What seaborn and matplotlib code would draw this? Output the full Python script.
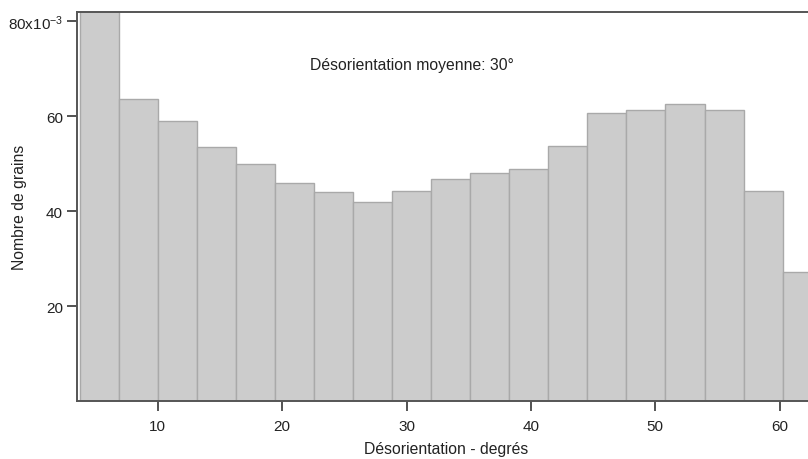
import matplotlib
matplotlib.use("Agg")
import matplotlib.pyplot as plt
import seaborn as sns
import numpy as np
import pandas as pd
from matplotlib.ticker import FixedLocator, FuncFormatter

# histogram values (fraction of grains)
heights = [0.0825, 0.0636, 0.0589, 0.0535, 0.0500, 0.0460, 0.0440, 0.0419, 0.0443,
           0.0467, 0.0481, 0.0489, 0.0537, 0.0606, 0.0613, 0.0626, 0.0613, 0.0443, 0.0271]
bin_start = 3.72
bin_width = 3.14
x_ticks = [10, 20, 30, 40, 50, 60]
y_ticks = [0.02, 0.04, 0.06, 0.08]

edges = [bin_start + bin_width * i for i in range(len(heights) + 1)]
centers = [(edges[i] + edges[i + 1]) / 2 for i in range(len(heights))]
df = pd.DataFrame({"angle": centers, "frac": heights})

sns.set_style("ticks")
plt.rcParams['font.family'] = ['Liberation Sans', 'DejaVu Sans']
plt.rcParams['mathtext.fontset'] = 'custom'
plt.rcParams['mathtext.rm'] = 'Liberation Sans'
plt.rcParams['mathtext.it'] = 'Liberation Sans'
plt.rcParams['mathtext.default'] = 'regular'

fig = plt.figure(figsize=(8.08, 4.6), dpi=100)
ax = fig.add_axes([77 / 808, 58 / 460, 731 / 808 + 0.01, 389 / 460])

sns.histplot(data=df, x="angle", weights="frac", bins=edges, ax=ax, stat="count",
             color="#cccccc", edgecolor="#a9a9a9", linewidth=1.0, alpha=1.0)

ax.set_xlim(3.5, 62.93)
ax.set_ylim(0, 0.0819)

ax.xaxis.set_major_locator(FixedLocator(x_ticks))
ax.yaxis.set_major_locator(FixedLocator(y_ticks))

def yfmt(v, pos):
    n = int(round(v * 1000))
    if n == 80:
        return r'80x10$^{-3}$'
    return str(n)

ax.yaxis.set_major_formatter(FuncFormatter(yfmt))
ax.tick_params(axis='both', which='major', direction='out', length=7, width=1.4,
               color='#555555', labelsize=11, labelcolor='#222222', pad=3,
               left=True, bottom=True)
ax.tick_params(axis='x', pad=6)

# tick marks drawn again as short lines, in axes units below / left of the frame
ax.vlines(x_ticks, -0.018, 0, transform=ax.get_xaxis_transform(), colors='#555555',
          linewidth=1.4, clip_on=False, zorder=5)
ax.hlines(y_ticks, -0.0095, 0, transform=ax.get_yaxis_transform(), colors='#555555',
          linewidth=1.4, clip_on=False, zorder=5)

for side in ['left', 'bottom', 'top']:
    ax.spines[side].set_visible(True)
    ax.spines[side].set_color('#555555')
    ax.spines[side].set_linewidth(1.4)
ax.spines['right'].set_visible(False)

ax.set_xlabel("Désorientation - degrés", fontsize=11.3, color='#222222', labelpad=6)
ax.set_ylabel("Nombre de grains", fontsize=11.3, color='#222222')
ax.yaxis.set_label_coords(-0.068, 0.5)

ax.text(22.2, 0.0709, "Désorientation moyenne: 30°", fontsize=11.3, color='#222222',
        ha='left', va='center')

fig.savefig("out.png", dpi=100)
